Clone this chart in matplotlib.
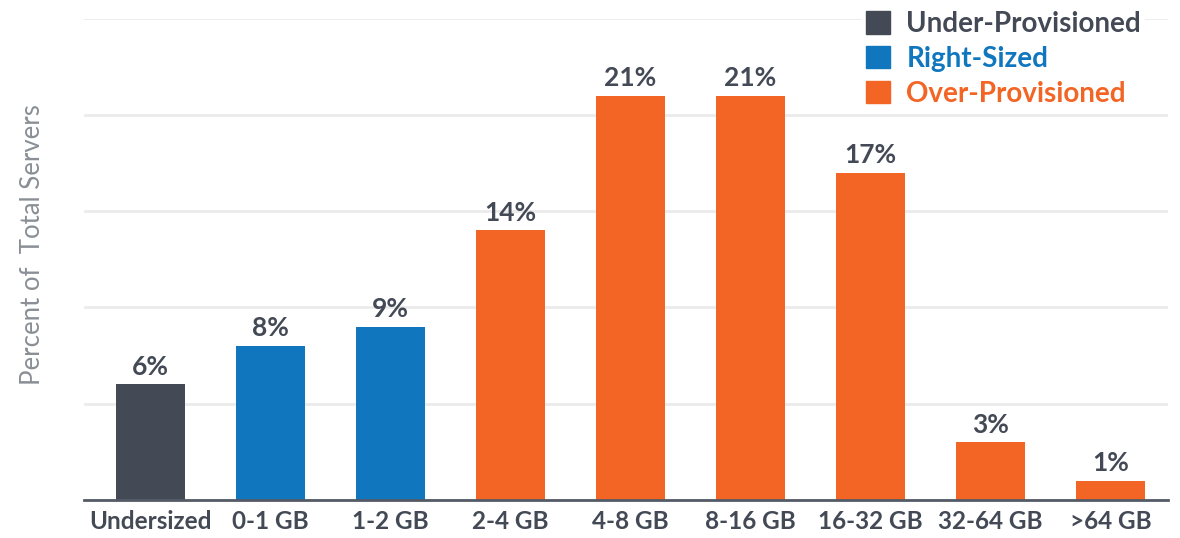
import numpy as np
import matplotlib.pyplot as plt
from matplotlib.patches import Patch

plt.rcParams['font.family'] = ['Lato', 'DejaVu Sans']

categories = ["Undersized", "0-1 GB", "1-2 GB", "2-4 GB", "4-8 GB",
              "8-16 GB", "16-32 GB", "32-64 GB", ">64 GB"]
percent = [6, 8, 9, 14, 21, 21, 17, 3, 1]
group = ["under", "right", "right", "over", "over", "over", "over", "over", "over"]

group_names = {"under": "Under-Provisioned", "right": "Right-Sized", "over": "Over-Provisioned"}
colors = {"under": "#434955", "right": "#1076BE", "over": "#F26524"}
text_dark = "#434955"

fig = plt.figure(figsize=(11.8, 5.38), dpi=100)
ax = fig.add_axes([84 / 1180, 38 / 538, 1084 / 1180, 481.5 / 538])

x = np.arange(len(categories))
bars = ax.bar(x, percent, width=0.575, color=[colors[g] for g in group], zorder=3)
ax.bar_label(bars, labels=[f"{p}%" for p in percent], padding=4,
             fontsize=19, fontweight="bold", color=text_dark)

ax.set_xlim(-0.55, 8.48)
ax.set_ylim(0, 25)
ax.set_yticks([0, 5, 10, 15, 20, 25])
ax.set_yticklabels([])
ax.tick_params(axis="y", length=0)
ax.grid(axis="y", color="#EBEBEB", linewidth=2, zorder=0)

ax.set_xticks(x)
ax.set_xticklabels(categories, fontsize=17.5, fontweight="bold", color=text_dark)
ax.tick_params(axis="x", length=0, pad=7)

for side in ["top", "right", "left"]:
    ax.spines[side].set_visible(False)
ax.spines["bottom"].set_color("#545B66")
ax.spines["bottom"].set_linewidth(2)
ax.spines["bottom"].set_zorder(4)

fig.text(33 / 1180, 0.545, "Percent of  Total Servers", rotation=90,
         ha="center", va="center", fontsize=18.5, fontweight="normal", color="#8A8F96")

# legend: white box sitting over the top gridline
handles = [Patch(color=colors[g]) for g in ["under", "right", "over"]]
leg = fig.legend(handles, [group_names[g] for g in ["under", "right", "over"]],
                 loc="upper left", bbox_to_anchor=(848 / 1180, 1.0 + 7 / 538),
                 frameon=True, fontsize=20, handlelength=0.85, handleheight=0.85,
                 handletextpad=0.6, labelspacing=0.32, borderpad=0.15)
leg.get_frame().set_facecolor("white")
leg.get_frame().set_edgecolor("none")
leg.get_frame().set_alpha(1)
for t, g in zip(leg.get_texts(), ["under", "right", "over"]):
    t.set_color(colors[g])
    t.set_fontweight("bold")

fig.savefig("out.png", dpi=100)
